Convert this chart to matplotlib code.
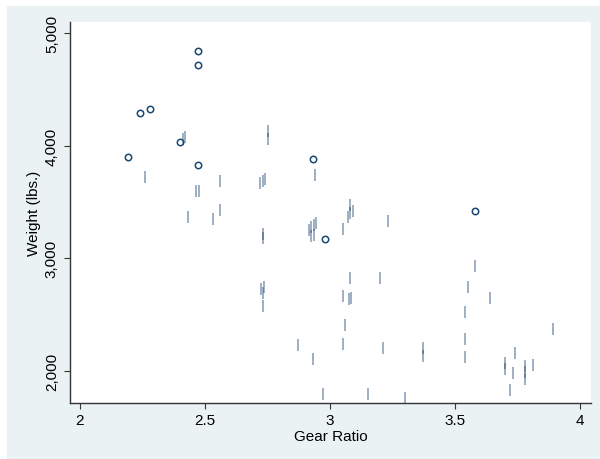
import matplotlib.pyplot as plt
from matplotlib.patches import Rectangle
from matplotlib.ticker import FuncFormatter
from matplotlib.transforms import ScaledTranslation

plt.rcParams["font.family"] = ["Liberation Sans", "DejaVu Sans"]

# 1978 automobile data: gear ratio, weight and price of each car
gear_ratio = [3.58, 2.53, 3.08, 2.93, 2.41, 2.73, 2.87, 2.93, 2.93, 3.08,
              2.28, 2.19, 2.24, 2.93, 2.56, 2.73, 2.73, 2.73, 2.56, 3.54,
              2.47, 2.47, 2.94, 3.15, 3.08, 2.47, 2.47, 2.47, 2.73, 2.75,
              2.26, 2.43, 2.75, 3.08, 2.41, 2.93, 2.93, 2.73, 3.08, 2.73,
              2.41, 3.05, 2.97, 3.37, 3.54, 3.23, 2.73, 3.08, 2.93, 2.93,
              3.08, 2.73, 3.20, 3.70, 3.64, 3.89, 3.70, 3.54, 3.55, 3.37,
              3.05, 3.30, 3.73, 3.58, 3.72, 3.81, 3.06, 3.21, 3.05, 3.74,
              3.78, 3.78, 3.78, 2.98]
weight = [2930, 3350, 2640, 3250, 4080, 3670, 2230, 3280, 3880, 3400,
          4330, 3900, 4290, 2110, 3690, 3180, 3220, 2750, 3430, 2120,
          3600, 3600, 3740, 1800, 2650, 4840, 4720, 3830, 2580, 4060,
          3720, 3370, 4130, 2830, 4060, 3310, 3300, 3690, 3370, 2730,
          4030, 3260, 1800, 2200, 2520, 3330, 3700, 3470, 3210, 3200,
          3420, 2690, 2830, 2070, 2650, 2370, 2020, 2280, 2750, 2130,
          2240, 1760, 1980, 3420, 1830, 2050, 2410, 2200, 2670, 2160,
          2040, 1930, 1990, 3170]
price = [4099, 4749, 3799, 4816, 7827, 5788, 4453, 5189, 10372, 4082,
         11385, 14500, 15906, 3299, 5705, 4504, 5104, 3667, 3955, 3984,
         4010, 5886, 6342, 4389, 4187, 11497, 13594, 13466, 3829, 5379,
         6165, 4516, 6303, 3291, 8814, 5172, 4733, 4890, 4181, 4195,
         10371, 4647, 4425, 4482, 6486, 4060, 5798, 4934, 5222, 4723,
         4424, 4172, 9690, 6295, 9735, 6229, 4589, 5079, 8129, 4296,
         5799, 4499, 3995, 12990, 3895, 3798, 5899, 3748, 5719, 7140,
         5397, 4697, 6850, 11995]

x_ticks = [2, 2.5, 3, 3.5, 4]
y_ticks = [2000, 3000, 4000, 5000]

navy = "#1a476f"

fig = plt.figure(figsize=(6, 4.6), dpi=100)
fig.patches.append(Rectangle((7 / 600, 0), 1, 453 / 460, transform=fig.transFigure,
                             facecolor="#eaf2f3", edgecolor="none", zorder=-5))
ax = fig.add_axes([70 / 600, 1 - 404 / 460, 521 / 600, 381 / 460])

# spread near-identical points sideways a little so stacked cars stay visible
order = sorted(range(len(weight)), key=lambda i: (gear_ratio[i], weight[i]))
groups = []
for i in order:
    last = groups[-1][-1] if groups else None
    if last is not None and gear_ratio[last] == gear_ratio[i] and weight[i] - weight[last] <= 30:
        groups[-1].append(i)
    else:
        groups.append([i])
shift = {}
for grp in groups:
    for k, i in enumerate(grp):
        shift[i] = (k - (len(grp) - 1) / 2) * 1.8  # points

for i in range(len(weight)):
    tr = ax.transData + ScaledTranslation(shift[i] / 72, 0, fig.dpi_scale_trans)
    if price[i] > 10000:
        ax.plot(gear_ratio[i], weight[i], linestyle="none", marker="o", markersize=4.6,
                markerfacecolor="none", markeredgewidth=1.1, color=navy, transform=tr)
    else:
        ax.plot(gear_ratio[i], weight[i], linestyle="none", marker="|", markersize=8.5,
                markeredgewidth=1.2, color=navy, alpha=0.5, transform=tr)

ax.set_xlim(1.96, 4.044)
ax.set_ylim(1716, 5098)
ax.set_xticks(x_ticks)
ax.set_yticks(y_ticks)
ax.xaxis.set_major_formatter(FuncFormatter(lambda v, p: f"{v:g}"))
ax.yaxis.set_major_formatter(FuncFormatter(lambda v, p: f"{int(v):,}"))
for lab in ax.get_yticklabels():
    lab.set_rotation(90)
    lab.set_va("center")
ax.tick_params(axis="both", length=4, width=0.8, color="#333333", labelsize=11)
ax.tick_params(axis="y", pad=4)
ax.tick_params(axis="x", pad=3)

for side in ["top", "right"]:
    ax.spines[side].set_visible(False)
for side in ["left", "bottom"]:
    ax.spines[side].set_color("#333333")
    ax.spines[side].set_linewidth(1.0)

ax.set_xlabel("Gear Ratio", fontsize=11, labelpad=2)
ax.set_ylabel("Weight (lbs.)", fontsize=11, labelpad=3)

fig.savefig("out.png", dpi=100)
